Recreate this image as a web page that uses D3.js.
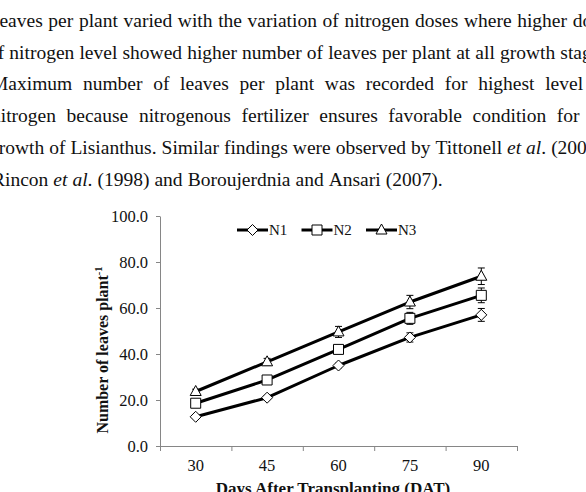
<!DOCTYPE html>
<html>
<head>
<meta charset="utf-8">
<script src="https://cdn.jsdelivr.net/npm/d3@7"></script>
<style>
  body { margin: 0; background: #fff; }
  svg { display: block; overflow: hidden; }
</style>
</head>
<body>
<div id="chart"></div>
<script>
// page text above the figure ({..} = italic)
const paragraph = [
  "leaves per plant varied with the variation of nitrogen doses where higher doses",
  "of nitrogen level showed higher number of leaves per plant at all growth stages",
  "Maximum number of leaves per plant was recorded for highest level of",
  "nitrogen because nitrogenous fertilizer ensures favorable condition for the",
  "growth of Lisianthus. Similar findings were observed by Tittonell {et} {al}. (2005),",
  "Rincon {et} {al}. (1998) and Boroujerdnia and Ansari (2007)."
];

// chart data
const days = ["30", "45", "60", "75", "90"];
const n1 = [12.7, 21.0, 35.0, 47.2, 57.0];
const n2 = [18.6, 28.7, 42.0, 55.5, 65.5];
const n3 = [23.7, 36.6, 49.6, 62.6, 73.8];
const n1Err = [0.6, 0.8, 1.0, 2.0, 2.8];
const n2Err = [1.0, 1.0, 1.2, 2.6, 3.2];
const n3Err = [1.0, 1.5, 2.4, 2.9, 3.6];
const seriesNames = ["N1", "N2", "N3"];
const yTicks = [0, 20, 40, 60, 80, 100];

const width = 586, height = 492;
const serif = "'Liberation Serif', 'Times New Roman', serif";

const svg = d3.select('#chart').append('svg')
  .attr('width', width)
  .attr('height', height);

// ---- paragraph, justified; both margins run past the crop
const firstBase = 27, lineGap = 31.7;
const lineLeft = [-6, -12, -9, -9, -11, -8];
const lineRight = [616, 608, 610, 614, 608];
const para = svg.append('g')
  .attr('font-family', serif)
  .attr('font-size', 19.5)
  .attr('fill', '#111');

paragraph.forEach((line, li) => {
  const words = line.split(' ');
  const nodes = words.map(w => {
    const t = para.append('text').attr('y', firstBase + li * lineGap);
    w.split(/(\{[^}]*\})/).filter(s => s.length).forEach(s => {
      const it = s.startsWith('{');
      t.append('tspan')
        .attr('font-style', it ? 'italic' : null)
        .text(it ? s.slice(1, -1) : s);
    });
    return t;
  });
  const widths = nodes.map(n => n.node().getComputedTextLength());
  const total = d3.sum(widths);
  const last = li === paragraph.length - 1;
  const gap = last ? 5 : (lineRight[li] - lineLeft[li] - total) / (words.length - 1);
  let x = lineLeft[li];
  nodes.forEach((n, i) => {
    n.attr('x', x);
    x += widths[i] + gap;
  });
});

// ---- chart
const margin = { left: 160, right: 69, top: 216, bottom: 46 };
const x = d3.scaleBand()
  .domain(days)
  .range([margin.left, width - margin.right]);
const y = d3.scaleLinear()
  .domain([0, 100])
  .range([height - margin.bottom, margin.top]);

const axisColor = '#868686';

// y axis
const yAxis = svg.append('g')
  .attr('transform', `translate(${margin.left},0)`)
  .call(d3.axisLeft(y).tickValues(yTicks).tickSize(4).tickSizeOuter(0)
    .tickPadding(8).tickFormat(d3.format('.1f')));
yAxis.selectAll('path, line').attr('stroke', axisColor);
yAxis.selectAll('text').attr('font-family', serif).attr('font-size', 16.5).attr('fill', '#111');

// x axis: ticks between categories, labels under the centres
const xEdges = d3.scaleLinear().domain([0, days.length]).range(x.range());
const xTickAxis = svg.append('g')
  .attr('transform', `translate(0,${y(0)})`)
  .call(d3.axisBottom(xEdges).ticks(days.length).tickSize(5).tickSizeOuter(0).tickFormat(''));
xTickAxis.selectAll('path, line').attr('stroke', axisColor);

const xAxis = svg.append('g')
  .attr('transform', `translate(0,${y(0)})`)
  .call(d3.axisBottom(x).tickSize(0).tickPadding(13));
xAxis.select('.domain').remove();
xAxis.selectAll('text').attr('font-family', serif).attr('font-size', 16.5).attr('fill', '#111');

// axis titles
const yTitle = svg.append('text')
  .attr('transform', `translate(108,350) rotate(-90)`)
  .attr('text-anchor', 'middle')
  .attr('font-family', serif)
  .attr('font-weight', 'bold')
  .attr('font-size', 16)
  .attr('fill', '#111');
yTitle.append('tspan').text('Number of leaves plant');
yTitle.append('tspan').attr('font-size', 10.5).attr('dy', -6).text('-1');

svg.append('text')
  .attr('x', 333)
  .attr('y', 494)
  .attr('text-anchor', 'middle')
  .attr('font-family', serif)
  .attr('font-weight', 'bold')
  .attr('font-size', 17)
  .attr('fill', '#111')
  .text('Days After Transplanting (DAT)');

// markers
const markers = [
  'M0,-5.5L5.5,0L0,5.5L-5.5,0Z',
  'M-5,-5H5V5H-5Z',
  'M0,-6L5.5,4H-5.5Z'
];

const series = [n1, n2, n3].map((vals, i) => ({
  name: seriesNames[i],
  marker: markers[i],
  points: vals.map((v, j) => ({ day: days[j], v: v, e: [n1Err, n2Err, n3Err][i][j] }))
}));

const cx = d => x(d.day) + x.bandwidth() / 2;
const line = d3.line().x(cx).y(d => y(d.v));

const sg = svg.append('g').selectAll('g')
  .data(series)
  .join('g');

// error bars
sg.selectAll('.err')
  .data(d => d.points)
  .join('path')
  .attr('class', 'err')
  .attr('fill', 'none')
  .attr('stroke', '#000')
  .attr('stroke-width', 1)
  .attr('d', d => {
    const x0 = cx(d), t = y(d.v + d.e), b = y(d.v - d.e);
    return `M${x0 - 3.5},${t}H${x0 + 3.5}M${x0},${t}V${b}M${x0 - 3.5},${b}H${x0 + 3.5}`;
  });

sg.append('path')
  .attr('fill', 'none')
  .attr('stroke', '#000')
  .attr('stroke-width', 3)
  .attr('stroke-linejoin', 'round')
  .attr('d', d => line(d.points));

sg.each(function (s) {
  d3.select(this).selectAll('.mk')
    .data(s.points)
    .join('path')
    .attr('class', 'mk')
    .attr('d', s.marker)
    .attr('transform', d => `translate(${cx(d)},${y(d.v)})`)
    .attr('fill', '#fff')
    .attr('stroke', '#000')
    .attr('stroke-width', 1);
});

// legend
const legend = svg.append('g').attr('transform', 'translate(237,230)');
const lg = legend.selectAll('g')
  .data(series)
  .join('g')
  .attr('transform', (d, i) => `translate(${i * 64.5},0)`);
lg.append('line')
  .attr('x1', 0).attr('x2', 31)
  .attr('stroke', '#000').attr('stroke-width', 3);
lg.append('path')
  .attr('d', d => d.marker)
  .attr('transform', 'translate(15.5,0)')
  .attr('fill', '#fff').attr('stroke', '#000');
lg.append('text')
  .attr('x', 32)
  .attr('dy', '0.35em')
  .attr('font-family', serif)
  .attr('font-size', 15)
  .attr('fill', '#111')
  .text(d => d.name);
</script>
</body>
</html>
